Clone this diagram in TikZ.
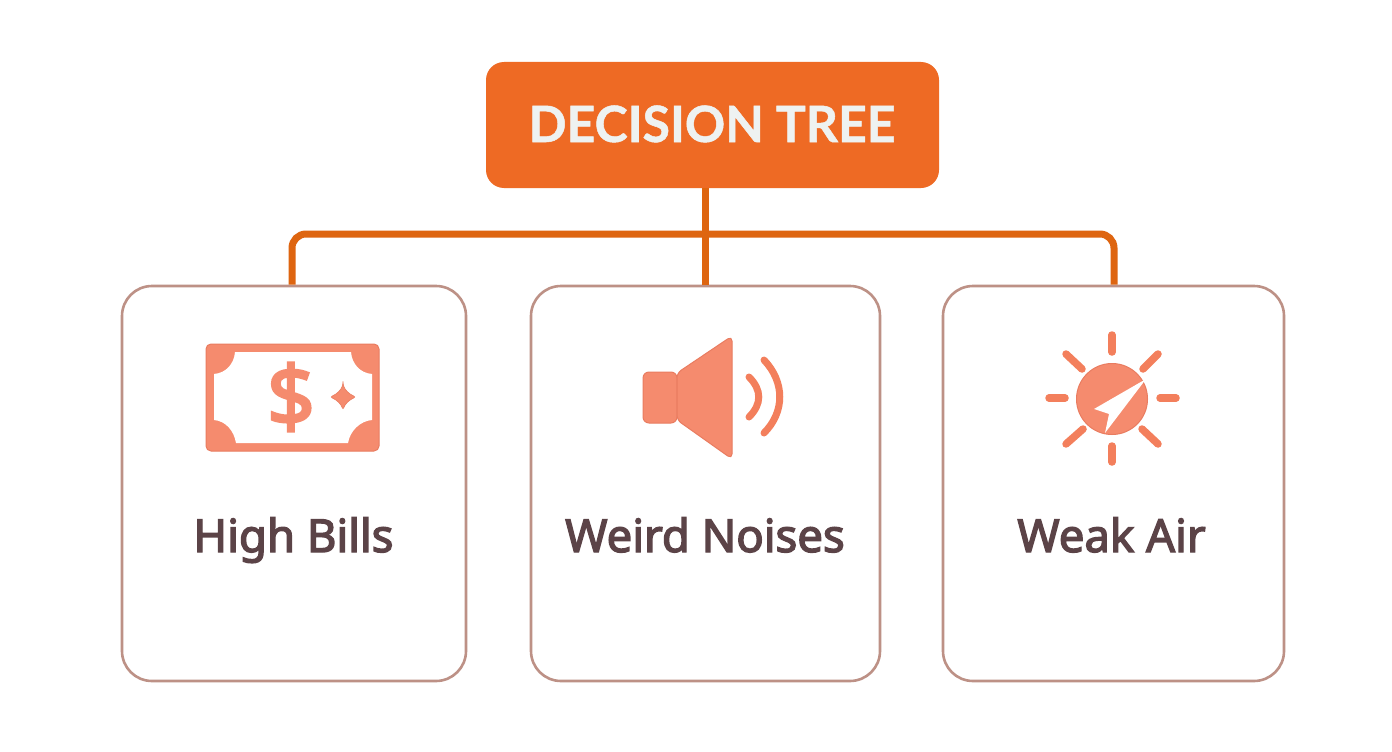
\documentclass[tikz,border=0pt]{standalone}
\usepackage{fontspec}
\setmainfont{Noto Sans}[FakeBold=3]
\newfontfamily\rootfont{Lato Bold}[FakeBold=1]
\newfontfamily\dolfont{Noto Sans}[FakeBold=3]
\definecolor{rootc}{HTML}{EE6A24}
\definecolor{linkc}{HTML}{DE6510}
\definecolor{boxc}{HTML}{BD9186}
\definecolor{txtc}{HTML}{5B4347}
\definecolor{iconc}{HTML}{F58B6E}
\definecolor{iconl}{HTML}{E97C60}
\definecolor{rayc}{HTML}{F37F5C}
\definecolor{roottxt}{HTML}{EEF2F1}
\tikzset{
 x=1pt,y=-1pt,
 rootbox/.style={fill=rootc,rounded corners=18pt,minimum width=453pt,minimum height=126pt,inner sep=0pt},
 roottext/.style={text=roottxt,inner sep=0pt,anchor=base,font=\rootfont\fontsize{50}{54}\selectfont},
 card/.style={draw=boxc,line width=2.6pt,fill=white,rounded corners=30pt,inner sep=0pt,minimum height=395pt},
 cardtext/.style={text=txtc,inner sep=0pt,anchor=base,font=\fontsize{45.5}{50}\selectfont},
 link/.style={draw=linkc,line width=7pt,rounded corners=14pt},
 iconf/.style={fill=iconc,draw=iconl,line width=1pt,line join=round},
 ray/.style={draw=rayc,line width=7.5pt,line cap=round},
 wave/.style={draw=rayc,line width=7pt,line cap=round},
}
\begin{document}
\begin{tikzpicture}
\useasboundingbox (0,0) rectangle (1392,752);
\fill[white] (0,0) rectangle (1392,752);
\node[rootbox] (root) at (712.5,125) {};
\node[roottext] (rt) at (712,142) {DECISION TREE};
\node[card,minimum width=344pt] (c1) at (294,483.5) {};
\node[card,minimum width=349pt] (c2) at (705.5,483.5) {};
\node[card,minimum width=341pt] (c3) at (1113.5,483.5) {};
\coordinate (j) at (705,234);
\coordinate (l) at (292,234);
\coordinate (r) at (1114,234);
\draw[link] (j |- root.south) -- (j |- c2.north);
\draw[link] (l |- c1.north) -- (l) -- (r) -- (r |- c3.north);
\node[cardtext] (t1) at (293.5,552) {High Bills};
\node[cardtext] (t2) at (705,552) {Weird Noises};
\node[cardtext] (t3) at (1111.5,552) {Weak Air};
% bill
\fill[iconc,draw=iconl,line width=1pt,rounded corners=5pt] (206,344) rectangle (379,451);
\fill[white] (214,374) .. controls (226,373) and (234,364) .. (235,352) -- (351,352) .. controls (352,364) and (360,373) .. (372,374) -- (372,420) .. controls (360,421) and (350,431) .. (348,443) -- (236,443) .. controls (234,431) and (226,421) .. (214,420) -- cycle;
\node[text=iconc,inner sep=0pt,font=\dolfont\fontsize{84}{88}\selectfont] (dollar) at (291,397) {\$};
\fill[iconc,draw=iconl,line width=.6pt,rounded corners=2.5pt] (343,384) .. controls (345,390) and (349,394) .. (356,397) .. controls (349,400) and (345,404) .. (343,410) .. controls (341,404) and (337,400) .. (330,397) .. controls (337,394) and (341,390) .. (343,384) -- cycle;
% speaker
\path[iconf,rounded corners=6pt] (677,372) -- (643,372) -- (643,423) -- (677,423) -- cycle;
\path[iconf,rounded corners=5pt] (677,373) -- (732,336) -- (732,459) -- (677,420) -- cycle;
\draw[wave] (749,377) .. controls (762,390) and (762,404) .. (749,417);
\draw[wave] (764,360) .. controls (785,382) and (785,412) .. (764,433);
% sun
\fill[iconc,draw=iconl,line width=1pt] (1112,399) circle (35.5);
\fill[white] (1146,379) -- (1094,409) -- (1109,414) -- (1105,433) -- cycle;
\foreach \a/\b/\c/\d in {1112/335/1112/352,1112/446/1112/462,1049/398/1065/398,1160/398/1176/398,1066/354/1082/369,1158/354/1143/369,1066/444/1083/429,1158/444/1142/429}
 \draw[ray] (\a,\b) -- (\c,\d);
\end{tikzpicture}
\end{document}
